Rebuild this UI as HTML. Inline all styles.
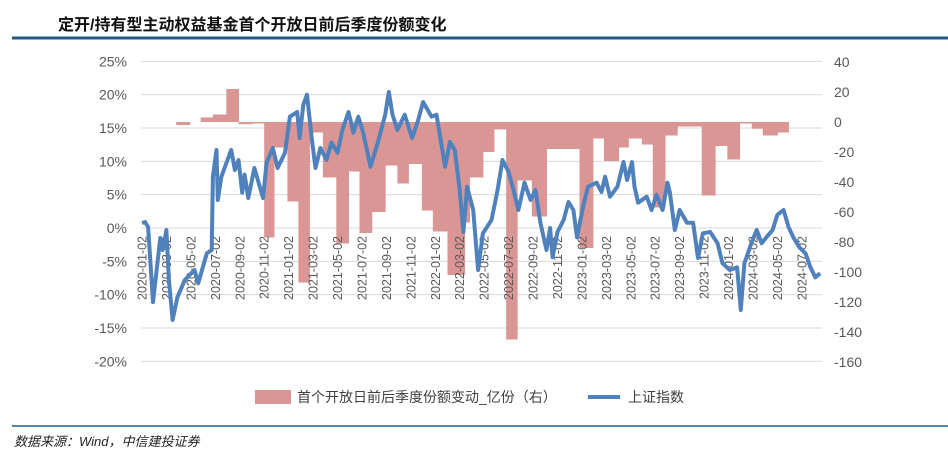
<!DOCTYPE html>
<html><head><meta charset="utf-8"><style>
body{margin:0;background:#fff;width:948px;height:458px;overflow:hidden;font-family:"Liberation Sans","Noto Sans CJK SC",sans-serif;}
</style></head><body>
<svg id="c" width="948" height="458" xmlns="http://www.w3.org/2000/svg">
<text x="58" y="30" font-size="16" font-weight="bold" fill="#111" font-family="Liberation Sans,Noto Sans CJK SC,sans-serif">定开/持有型主动权益基金首个开放日前后季度份额变化</text>
<line x1="12" y1="38" x2="948" y2="38" stroke="#1F5C8B" stroke-width="3"/>
<g id="grid"></g><g id="bars"></g><g id="xl"></g><g id="line"></g><g id="yl"></g>
<g>
<rect x="255" y="390" width="36" height="14" fill="#DA9694"/>
<text x="297" y="402" font-size="14" fill="#404040">首个开放日前后季度份额变动_亿份（右）</text>
<line x1="588" y1="397" x2="620" y2="397" stroke="#4F81BD" stroke-width="4"/>
<text x="628" y="402" font-size="14" fill="#404040">上证指数</text>
</g>
<line x1="12" y1="426" x2="948" y2="426" stroke="#1F5C8B" stroke-width="1.5"/>
<text x="14" y="446" font-size="13" font-style="italic" fill="#222">数据来源：Wind，中信建投证券</text>
</svg>
<script>
const leftTicks=[25,20,15,10,5,0,-5,-10,-15,-20];
const rightTicks=[40,20,0,-20,-40,-60,-80,-100,-120,-140,-160];
const xTickLabels=["2020-01-02","2020-03-02","2020-05-02","2020-07-02","2020-09-02","2020-11-02","2021-01-02","2021-03-02","2021-05-02","2021-07-02","2021-09-02","2021-11-02","2022-01-02","2022-03-02","2022-05-02","2022-07-02","2022-09-02","2022-11-02","2023-01-02","2023-03-02","2023-05-02","2023-07-02","2023-09-02","2023-11-02","2024-01-02","2024-03-02","2024-05-02","2024-07-02"];
// months since 2020-01-02
const barStarts=[2.8,3.9,4.8,5.8,6.9,7.9,9,10,10.8,11.9,12.8,13.7,14.8,15.9,16.9,17.8,18.8,19.9,20.9,21.8,22.9,23.8,25,26.4,26.8,27.9,28.8,29.8,30.7,31.9,33.1,35.8,36.9,37.8,39,39.8,40.9,41.8,42.8,43.8,45.8,46.9,47.9,48.9,49.9,50.8,52,52.9];
const barValues=[-2,0,3,5,22,-1.5,-1,-77,-17,-53,-107,-7,-37,-81,-33,-74,-60,-29,-41,-28,-59,-73,-102,-67,-37,-20,-5,-145,-39,-63,-18,-84,-11,-26,-17,-11,-15,-57,-9,-3,-49,-16,-25,-1,-4.5,-9,-7];
const lineMonths=[0,0.25,0.5,0.9,1.5,1.7,2.0,2.2,2.5,2.9,3.5,4.3,4.6,5.3,5.7,5.8,6.1,6.2,6.5,7.0,7.3,7.6,7.9,8.2,8.4,8.7,9.2,9.9,10.2,10.7,11.1,11.7,12.1,12.7,12.9,13.2,13.5,13.9,14.2,14.6,15.1,15.5,16.0,16.4,16.9,17.3,17.7,18.1,18.7,19.3,19.9,20.2,20.5,20.9,21.5,22.1,22.6,23.0,23.7,24.1,24.8,25.2,25.6,26.0,26.3,26.6,27.1,27.5,27.9,28.6,29.1,29.5,30.0,30.4,30.8,31.3,31.8,32.2,32.6,33.1,33.4,33.6,34.0,34.5,34.9,35.3,35.6,36.1,36.5,37.2,37.6,37.9,38.3,38.9,39.4,39.7,40.1,40.3,40.6,41.3,41.7,42.1,42.6,43.0,43.2,43.6,44.0,44.6,45.1,45.5,45.9,46.5,47.1,47.5,48.1,48.7,49.0,49.3,49.9,50.3,50.7,51.1,51.6,52.0,52.5,52.9,53.3,53.8,54.3,54.7,55.1,55.5];
const lineValues=[0.75,0.9,0.15,-11.1,-1.5,-3.3,-0.3,-7.8,-13.8,-10.4,-7.8,-6.3,-8.3,-3.8,-3.3,7.7,11.7,4.2,7.7,10.2,11.7,8.7,10.2,5.3,8.0,4.5,9.0,4.5,9.8,12.0,9.0,11.3,16.7,17.4,13.5,18.5,20.0,13.2,9.0,12.0,10.2,12.8,11.3,14.7,17.4,14.3,16.7,14.3,9.2,12.8,17.0,20.4,17.0,14.7,17.0,13.5,16.2,18.9,16.7,17.0,9.2,12.9,11.7,5.7,-0.6,6.2,2.7,-6.3,-0.8,1.2,5.7,10.2,8.4,5.7,2.7,6.8,4.2,5.7,0.8,-3.3,0,-4.4,-0.6,1.2,3.9,2.7,-1.4,3.2,6.2,6.8,5.4,7.7,4.7,6.2,9.9,7.2,9.9,6.2,3.8,4.7,2.7,5.0,2.7,6.8,5.3,-0.3,2.7,0.8,0.8,-4.5,-0.8,-0.6,-2.3,-5.3,-6.3,-5.9,-12.3,-5.3,-2.1,-0.3,-2.3,-1.4,-0.3,2.0,2.7,0.2,-1.4,-2.9,-3.8,-5.9,-7.4,-6.8];

const NS="http://www.w3.org/2000/svg";
const X=m=>142+m*12.22;
const YL=v=>228-v*6.667;
const YR=v=>122-v*1.5;
function mk(tag,attrs,parent,txt){const e=document.createElementNS(NS,tag);for(const k in attrs)e.setAttribute(k,attrs[k]);if(txt!==undefined)e.textContent=txt;document.getElementById(parent).appendChild(e);return e;}

leftTicks.forEach(t=>{
  const g=mk('line',{x1:141,x2:822,y1:YL(t),y2:YL(t),stroke:'#D9D9D9','stroke-width':1},'grid');
  
  
  const l=mk('text',{x:127,y:YL(t)+5,'font-size':14,fill:'#595959','text-anchor':'end'},'yl',t+'%');
  
  
});
rightTicks.forEach(t=>{
  const l=mk('text',{x:834,y:YR(t)+5,'font-size':14,fill:'#595959'},'yl',String(t));
  
  
});
barValues.forEach((v,i)=>{
  if(v===0)return;
  const x0=X(barStarts[i]),x1=X(barStarts[i+1]);
  const y0=Math.min(YR(0),YR(v)),h=Math.abs(YR(v)-YR(0));
  const r=mk('rect',{x:x0,y:y0,width:x1-x0+0.5,height:h,fill:'#DA9694'},'bars');
  
  
});
xTickLabels.forEach((s,i)=>{
  const x=X(i*2);
  const t=mk('text',{x:0,y:0,'font-size':12.5,fill:'#595959','text-anchor':'end',transform:`translate(${x+4.5},236) rotate(-90)`},'xl',s);
  
  
});
let d=lineMonths.map((m,i)=>(i?'L':'M')+X(m).toFixed(1)+','+YL(lineValues[i]).toFixed(1)).join('');
const p=mk('path',{d:d,fill:'none',stroke:'#4F81BD','stroke-width':4,'stroke-linejoin':'round'},'line');


</script>
</body></html>
